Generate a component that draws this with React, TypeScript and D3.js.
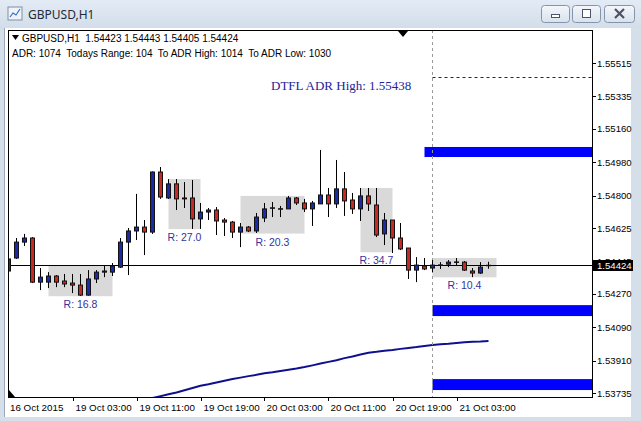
import * as d3 from "d3";

// time, open, high, low, close (H1 bars)
const candles: [string, number, number, number, number][] = [
  ["2015.10.16 19:00", 1.54393, 1.54517, 1.54387, 1.54458],
  ["2015.10.16 20:00", 1.54463, 1.54571, 1.54458, 1.54549],
  ["2015.10.16 21:00", 1.54549, 1.54593, 1.54528, 1.54571],
  ["2015.10.16 22:00", 1.54571, 1.54576, 1.54328, 1.54333],
  ["2015.10.16 23:00", 1.54333, 1.54409, 1.5429, 1.5436],
  ["2015.10.19 00:00", 1.54333, 1.54387, 1.54301, 1.54366],
  ["2015.10.19 01:00", 1.54366, 1.54371, 1.54306, 1.54333],
  ["2015.10.19 02:00", 1.54339, 1.54377, 1.54306, 1.54323],
  ["2015.10.19 03:00", 1.54328, 1.54377, 1.54274, 1.54317],
  ["2015.10.19 04:00", 1.54317, 1.54377, 1.54258, 1.54263],
  ["2015.10.19 05:00", 1.54263, 1.54398, 1.5426, 1.5435],
  ["2015.10.19 06:00", 1.5435, 1.54398, 1.54328, 1.54387],
  ["2015.10.19 07:00", 1.54387, 1.5442, 1.5436, 1.54393],
  ["2015.10.19 08:00", 1.54387, 1.54436, 1.54366, 1.5442],
  ["2015.10.19 09:00", 1.54414, 1.54571, 1.54409, 1.54549],
  ["2015.10.19 10:00", 1.54549, 1.54625, 1.54371, 1.54609],
  ["2015.10.19 11:00", 1.54609, 1.54809, 1.5456, 1.5463],
  ["2015.10.19 12:00", 1.5463, 1.54668, 1.54479, 1.54603],
  ["2015.10.19 13:00", 1.54603, 1.5493, 1.54593, 1.54927],
  ["2015.10.19 14:00", 1.54927, 1.54954, 1.54782, 1.54792],
  ["2015.10.19 15:00", 1.54787, 1.54889, 1.54782, 1.54863],
  ["2015.10.19 16:00", 1.54863, 1.54889, 1.54722, 1.54782],
  ["2015.10.19 17:00", 1.54787, 1.54873, 1.54733, 1.54782],
  ["2015.10.19 18:00", 1.54787, 1.54884, 1.5462, 1.54674],
  ["2015.10.19 19:00", 1.54674, 1.5476, 1.5462, 1.54711],
  ["2015.10.19 20:00", 1.54711, 1.54733, 1.54668, 1.54722],
  ["2015.10.19 21:00", 1.54722, 1.54738, 1.54587, 1.54663],
  ["2015.10.19 22:00", 1.54668, 1.54679, 1.54582, 1.54657],
  ["2015.10.19 23:00", 1.54657, 1.54663, 1.54571, 1.54603],
  ["2015.10.20 00:00", 1.54603, 1.54652, 1.54522, 1.5463],
  ["2015.10.20 01:00", 1.5463, 1.54636, 1.54603, 1.54609],
  ["2015.10.20 02:00", 1.54609, 1.54706, 1.54598, 1.54684],
  ["2015.10.20 03:00", 1.54679, 1.5476, 1.54657, 1.54728],
  ["2015.10.20 04:00", 1.54733, 1.54765, 1.54684, 1.54734],
  ["2015.10.20 05:00", 1.54728, 1.54744, 1.54684, 1.54729],
  ["2015.10.20 06:00", 1.54728, 1.54798, 1.54728, 1.54787],
  ["2015.10.20 07:00", 1.54787, 1.54792, 1.54749, 1.5476],
  ["2015.10.20 08:00", 1.5476, 1.54782, 1.54711, 1.54728],
  ["2015.10.20 09:00", 1.54728, 1.54771, 1.54636, 1.5476],
  ["2015.10.20 10:00", 1.54755, 1.55046, 1.54755, 1.54803],
  ["2015.10.20 11:00", 1.54803, 1.54841, 1.54684, 1.54755],
  ["2015.10.20 12:00", 1.54755, 1.54992, 1.54733, 1.54836],
  ["2015.10.20 13:00", 1.54836, 1.54927, 1.5469, 1.54771],
  ["2015.10.20 14:00", 1.54776, 1.54814, 1.54701, 1.54728],
  ["2015.10.20 15:00", 1.54728, 1.54841, 1.54663, 1.54798],
  ["2015.10.20 16:00", 1.54798, 1.54841, 1.54717, 1.54755],
  ["2015.10.20 17:00", 1.54749, 1.54841, 1.54576, 1.54587],
  ["2015.10.20 18:00", 1.54593, 1.54706, 1.54533, 1.54668],
  ["2015.10.20 19:00", 1.54668, 1.54668, 1.5449, 1.54571],
  ["2015.10.20 20:00", 1.54571, 1.54652, 1.54506, 1.54512],
  ["2015.10.20 21:00", 1.54517, 1.54517, 1.5435, 1.54398],
  ["2015.10.20 22:00", 1.54398, 1.54468, 1.54333, 1.54425],
  ["2015.10.20 23:00", 1.5442, 1.54463, 1.54398, 1.54404],
  ["2015.10.21 00:00", 1.54409, 1.54452, 1.54387, 1.54425],
  ["2015.10.21 01:00", 1.54425, 1.54441, 1.54404, 1.54426],
  ["2015.10.21 02:00", 1.5443, 1.54452, 1.54414, 1.54441],
  ["2015.10.21 03:00", 1.54441, 1.54463, 1.5442, 1.54442],
  ["2015.10.21 04:00", 1.54441, 1.54447, 1.54393, 1.54398],
  ["2015.10.21 05:00", 1.54393, 1.54409, 1.5436, 1.54382],
  ["2015.10.21 06:00", 1.54382, 1.54441, 1.54377, 1.54414],
  ["2015.10.21 07:00", 1.54423, 1.54443, 1.54405, 1.54424],
];

// moving average, starting at 19 Oct 12:00
const maStart = "2015.10.19 12:00";
const maValues = [
  1.53697, 1.53708, 1.53718, 1.53728, 1.53738, 1.5375, 1.53762, 1.53774, 1.53782, 1.53792,
  1.53801, 1.5381, 1.53818, 1.53826, 1.53833, 1.53841, 1.53847, 1.53854, 1.53861, 1.53867,
  1.53875, 1.53884, 1.53894, 1.53903, 1.53912, 1.53923, 1.53932, 1.53943, 1.53952, 1.53957,
  1.53963, 1.53967, 1.53973, 1.53978, 1.53983, 1.53989, 1.53994, 1.53998, 1.54001, 1.54005,
  1.54009, 1.54012, 1.54013, 1.54015,
];

// session range boxes: from, to, high, range in pips
const rangeFrom = ["2015.10.16 15:00", "2015.10.19 00:00", "2015.10.19 15:00", "2015.10.20 00:00", "2015.10.20 15:00", "2015.10.21 00:00"];
const rangeTo = ["2015.10.16 19:00", "2015.10.19 08:00", "2015.10.19 19:00", "2015.10.20 08:00", "2015.10.20 19:00", "2015.10.21 08:00"];
const rangeHigh = [1.54526, 1.54425, 1.54889, 1.54798, 1.54841, 1.54463];
const rangePips = [21.4, 16.8, 27.0, 20.3, 34.7, 10.4];

// ADR levels (thick bands)
const adrFrom = ["2015.10.20 23:00", "2015.10.21 00:00", "2015.10.21 00:00"];
const adrTop = [1.55062, 1.54209, 1.5381];
const adrBottom = [1.55008, 1.5415, 1.53751];
const adrHigh = 1.55438;
const dayStart = "2015.10.21 00:00";

const priceTicks = [1.55515, 1.55335, 1.5516, 1.5498, 1.548, 1.54625, 1.54445, 1.5427, 1.5409, 1.5391, 1.53735];
const timeTickAt = ["2015.10.19 03:00", "2015.10.19 11:00", "2015.10.19 19:00", "2015.10.20 03:00", "2015.10.20 11:00", "2015.10.20 19:00", "2015.10.21 03:00"];
const timeTickLabels = ["19 Oct 03:00", "19 Oct 11:00", "19 Oct 19:00", "20 Oct 03:00", "20 Oct 11:00", "20 Oct 19:00", "21 Oct 03:00"];

const bid = 1.54424;
const headerText = "GBPUSD,H1  1.54423 1.54443 1.54405 1.54424";
const adrText = "ADR: 1074  Todays Range: 104  To ADR High: 1014  To ADR Low: 1030";

const W = 641;
const H = 421;
const plot = { left: 8, right: 592, top: 30, bottom: 397 };
const font = "'Liberation Sans', Arial, sans-serif";

const parse = d3.timeParse("%Y.%m.%d %H:%M");
const hourDiff = (a: string, b: string) => ((parse(a) as Date).getTime() - (parse(b) as Date).getTime()) / 3.6e6;
const barIndex = (t: string) => {
  const i = candles.findIndex((c) => c[0] === t);
  if (i >= 0) return i;
  if (hourDiff(t, candles[0][0]) < 0) return hourDiff(t, candles[0][0]);
  return candles.length - 1 + hourDiff(t, candles[candles.length - 1][0]);
};

const x = d3.scaleLinear().domain([0, candles.length - 1]).range([8.5, 8.5 + 8 * (candles.length - 1)]);
const y = d3.scaleLinear().domain([1.53735, 1.55515]).range([393, 63]);

const BULL = "#1c2aa8";
const BEAR = "#c62a22";

export default function App() {
  const maStartIdx = barIndex(maStart);
  const maLine = d3
    .line<number>()
    .x((_, i) => x(maStartIdx + i))
    .y((d) => y(d))(maValues) as string;

  const yBid = y(bid);

  return (
    <svg width={W} height={H} style={{ position: "fixed", left: 0, top: 0, display: "block" }} fontFamily={font}>
      <defs>
        <clipPath id="plotClip">
          <rect x={plot.left + 1} y={plot.top + 1} width={plot.right - plot.left - 1} height={plot.bottom - plot.top - 1} />
        </clipPath>
        <linearGradient id="titleGrad" x1="0" y1="0" x2="0" y2="1">
          <stop offset="0" stopColor="#e3ebf5" />
          <stop offset="1" stopColor="#d3deea" />
        </linearGradient>
        <linearGradient id="btnGrad" x1="0" y1="0" x2="0" y2="1">
          <stop offset="0" stopColor="#f4f7fb" />
          <stop offset="1" stopColor="#d8e1ec" />
        </linearGradient>
      </defs>

      {/* window frame */}
      <rect x={0} y={0} width={W} height={H} fill="#d5dfea" />
      <rect x={0} y={0} width={W} height={28} fill="url(#titleGrad)" />
      <rect x={8} y={7} width={14} height={13} fill="#eef3f9" stroke="#7f8fa6" />
      <polyline points="10,17 13,13 16,15 20,9" fill="none" stroke="#3a6fc0" strokeWidth={1.2} />
      <text x={28} y={18.5} fontSize={12} fill="#1e2a3a" fontFamily="'Noto Sans', sans-serif">GBPUSD,H1</text>
      {[541, 572, 604].map((bx, i) => (
        <g key={bx}>
          <rect x={bx + 0.5} y={5.5} width={i === 2 ? 30 : 28} height={17} rx={3} fill="url(#btnGrad)" stroke="#8494aa" />
          {i === 0 && <rect x={bx + 10.5} y={14.5} width={8} height={3} fill="#fff" stroke="#4a5466" />}
          {i === 1 && <rect x={bx + 10.5} y={9.5} width={8} height={8} fill="#fff" stroke="#4a5466" />}
          {i === 2 && (
            <path d={`M${bx + 11},9 L${bx + 20},18 M${bx + 20},9 L${bx + 11},18`} stroke="#4a5466" strokeWidth={2.2} />
          )}
        </g>
      ))}
      <rect x={5} y={28} width={626} height={389} fill="#ffffff" />
      <line x1={4.5} x2={4.5} y1={28} y2={417} stroke="#9aa8ba" />

      {/* plot contents */}
      <g clipPath="url(#plotClip)">
        {rangeFrom.map((f, i) => {
          const x0 = x(barIndex(f));
          const x1 = x(barIndex(rangeTo[i]));
          const hi = rangeHigh[i];
          const lo = hi - rangePips[i] / 10000;
          return <rect key={f} x={x0} y={y(hi)} width={x1 - x0} height={y(lo) - y(hi)} fill="#d9d9d9" />;
        })}

        {adrFrom.map((f, i) => (
          <rect key={i} x={x(barIndex(f))} y={y(adrTop[i])} width={plot.right - x(barIndex(f))} height={y(adrBottom[i]) - y(adrTop[i])} fill="#0000ff" />
        ))}

        <line x1={x(barIndex(dayStart))} x2={plot.right} y1={Math.round(y(adrHigh)) + 0.5} y2={Math.round(y(adrHigh)) + 0.5} stroke="#1a1a8a" strokeDasharray="3,3" />

        <path d={maLine} fill="none" stroke="#10108f" strokeWidth={2} />

        <line x1={plot.left} x2={plot.right} y1={Math.round(yBid) + 0.5} y2={Math.round(yBid) + 0.5} stroke="#000" />

        <line x1={x(barIndex(dayStart))} x2={x(barIndex(dayStart))} y1={plot.top} y2={plot.bottom} stroke="#9a9a9a" strokeDasharray="3,3" />

        {candles.map(([t, o, h, l, c], i) => {
          const cx = x(i);
          const top = y(Math.max(o, c));
          const bot = y(Math.min(o, c));
          return (
            <g key={t}>
              <line x1={cx} x2={cx} y1={y(h)} y2={y(l)} stroke="#000" />
              <rect x={cx - 2} y={top} width={4} height={Math.max(bot - top, 0.5)} fill={c >= o ? BULL : BEAR} stroke="#111" />
            </g>
          );
        })}

        {rangeFrom.map((f, i) => {
          const x0 = x(barIndex(f));
          const x1 = x(barIndex(rangeTo[i]));
          const lo = rangeHigh[i] - rangePips[i] / 10000;
          return (
            <text key={f} x={(x0 + x1) / 2} y={y(lo) + 12} fontSize={10.5} textAnchor="middle" fill="#34349c">
              R: {rangePips[i].toFixed(1)}
            </text>
          );
        })}

        <text x={271} y={y(adrHigh) + 12.5} fontSize={13} fill="#23239a" fontFamily="'Liberation Serif', 'Times New Roman', serif">
          DTFL ADR High: {adrHigh.toFixed(5)}
        </text>

        <polygon points="12,35 19,35 15.5,40" fill="#000" />
        <text x={22} y={41.5} fontSize={10} fill="#000" xmlSpace="preserve">{headerText}</text>
        <text x={12} y={56.5} fontSize={10} fill="#000" xmlSpace="preserve">{adrText}</text>
      </g>

      {/* chart frame */}
      <rect x={plot.left + 0.5} y={plot.top + 0.5} width={plot.right - plot.left} height={plot.bottom - plot.top} fill="none" stroke="#000" />
      <polygon points="398,31 408,31 403,37" fill="#000" />
      <polygon points="9,390 9,397 15,397" fill="#000" />

      {/* price axis */}
      {priceTicks.map((p) => (
        <g key={p}>
          <line x1={plot.right} x2={plot.right + 4} y1={Math.round(y(p)) + 0.5} y2={Math.round(y(p)) + 0.5} stroke="#000" />
          <text x={597} y={y(p) + 3.5} fontSize={9.6} fill="#000">{p.toFixed(5)}</text>
        </g>
      ))}
      <rect x={593} y={Math.round(yBid) - 5} width={40} height={11} fill="#000" />
      <text x={597} y={Math.round(yBid) + 4} fontSize={9.6} fill="#fff">{bid.toFixed(5)}</text>

      {/* time axis */}
      <text x={10} y={411} fontSize={9.8} fill="#000">16 Oct 2015</text>
      {timeTickAt.map((t, i) => {
        const tx = Math.round(x(barIndex(t))) + 0.5;
        return (
          <g key={t}>
            <line x1={tx} x2={tx} y1={plot.bottom} y2={plot.bottom + 4} stroke="#000" />
            <text x={tx + 2} y={411} fontSize={9.8} fill="#000">{timeTickLabels[i]}</text>
          </g>
        );
      })}
    </svg>
  );
}
